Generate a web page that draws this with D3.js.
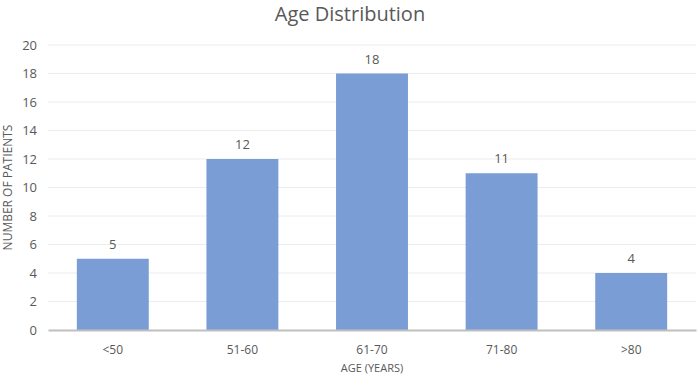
<!DOCTYPE html>
<html>
<head>
<meta charset="utf-8">
<script src="https://cdn.jsdelivr.net/npm/d3@7"></script>
<style>
body { margin: 0; background: #fff; }
svg text { font-family: "Open Sans", "Liberation Sans", sans-serif; fill: #595959; }
</style>
</head>
<body>
<svg width="700" height="380"></svg>
<script>
var categories = ["<50", "51-60", "61-70", "71-80", ">80"];
var patients = [5, 12, 18, 11, 4];
var yTicks = [0, 2, 4, 6, 8, 10, 12, 14, 16, 18, 20];

var svg = d3.select("svg"),
    margin = { top: 45, right: 4, bottom: 50, left: 48 },
    width = +svg.attr("width") - margin.left - margin.right,
    height = +svg.attr("height") - margin.top - margin.bottom;

var x = d3.scaleBand()
    .domain(categories)
    .range([0, width])
    .paddingInner(0.445)
    .paddingOuter(0.2225);

var y = d3.scaleLinear()
    .domain([0, 20])
    .range([height, 0]);

var g = svg.append("g")
    .attr("transform", "translate(" + margin.left + "," + margin.top + ")");

// gridlines
g.append("g")
    .selectAll("line")
    .data(yTicks.slice(1))
    .enter().append("line")
    .attr("x1", 0)
    .attr("x2", width)
    .attr("y1", function (d) { return y(d); })
    .attr("y2", function (d) { return y(d); })
    .attr("stroke", "#ececec")
    .attr("stroke-width", 1);

// y tick labels
var yAxis = g.append("g")
    .call(d3.axisLeft(y).tickValues(yTicks).tickSize(0).tickPadding(11));
yAxis.select(".domain").remove();
yAxis.selectAll("text").attr("font-size", 13);

// bars
g.selectAll(".bar")
    .data(patients)
    .enter().append("rect")
    .attr("class", "bar")
    .attr("x", function (d, i) { return x(categories[i]); })
    .attr("width", x.bandwidth())
    .attr("y", function (d) { return y(d); })
    .attr("height", function (d) { return height - y(d); })
    .attr("fill", "#7a9dd5");

// value labels
g.selectAll(".val")
    .data(patients)
    .enter().append("text")
    .attr("class", "val")
    .attr("x", function (d, i) { return x(categories[i]) + x.bandwidth() / 2; })
    .attr("y", function (d) { return y(d) - 10; })
    .attr("text-anchor", "middle")
    .attr("font-size", 13)
    .text(function (d) { return d; });

// x axis
var xAxis = g.append("g")
    .attr("transform", "translate(0," + height + ")")
    .call(d3.axisBottom(x).tickSize(0).tickPadding(15));
xAxis.select(".domain").attr("stroke", "#bfbfbf").attr("stroke-width", 2);
xAxis.selectAll("text").attr("font-size", 12);

// titles
svg.append("text")
    .attr("x", 350)
    .attr("y", 21)
    .attr("text-anchor", "middle")
    .attr("font-size", 20)
    .text("Age Distribution");

svg.append("text")
    .attr("x", margin.left + width / 2)
    .attr("y", 372)
    .attr("text-anchor", "middle")
    .attr("font-size", 11)
    .text("AGE (YEARS)");

svg.append("text")
    .attr("transform", "translate(12," + (margin.top + height / 2) + ") rotate(-90)")
    .attr("text-anchor", "middle")
    .attr("font-size", 12)
    .text("NUMBER OF PATIENTS");
</script>
</body>
</html>
